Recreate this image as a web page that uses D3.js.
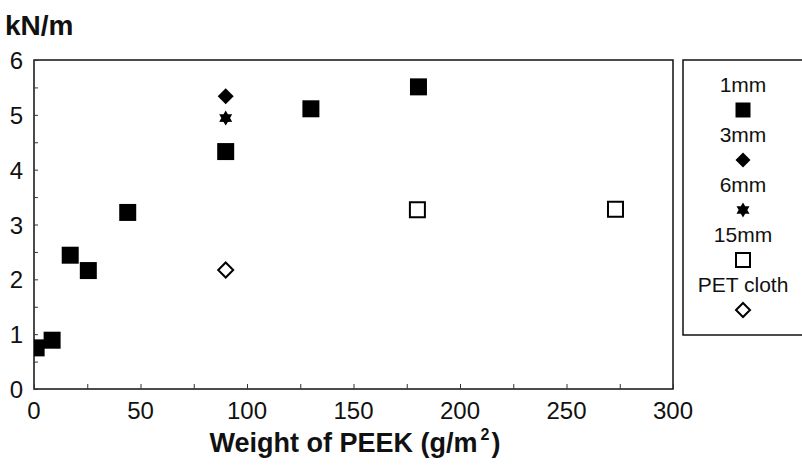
<!DOCTYPE html>
<html><head><meta charset="utf-8">
<script src="https://cdn.jsdelivr.net/npm/d3@7"></script>
<style>body{margin:0;background:#fff}svg{display:block;font-family:"Liberation Sans",Arial,sans-serif}</style>
</head><body><svg id="c" width="802" height="467"></svg>
<script>
const xTicks = [0, 50, 100, 150, 200, 250, 300];
const yTicks = [0, 1, 2, 3, 4, 5, 6];
const seriesNames = ["1mm", "3mm", "6mm", "15mm", "PET cloth"];
const s1mmX = [1, 8.5, 17, 25.5, 44, 90, 130, 180.5];
const s1mmY = [0.75, 0.89, 2.44, 2.16, 3.22, 4.33, 5.11, 5.51];
const s3mmX = [90];
const s3mmY = [5.34];
const s6mmX = [90];
const s6mmY = [4.94];
const s15mmX = [180, 273];
const s15mmY = [3.27, 3.28];
const petX = [90];
const petY = [2.17];

const svg = d3.select("#c");
const L = 34, R = 673, T = 60, B = 389;
const x = d3.scaleLinear().domain([0, 300]).range([L, R]);
const y = d3.scaleLinear().domain([0, 6]).range([B, T]);

svg.append("rect").attr("x", L).attr("y", T).attr("width", R - L).attr("height", B - T)
  .attr("fill", "none").attr("stroke", "#111").attr("stroke-width", 1.5);

const gx = svg.append("g").attr("transform", `translate(0,${B})`)
  .call(d3.axisTop(x).tickValues(d3.range(0, 301, 25)).tickSize(5).tickFormat(""));
const gy = svg.append("g").attr("transform", `translate(${L},0)`)
  .call(d3.axisRight(y).tickValues(d3.range(0, 6.01, 0.5)).tickSize(4).tickFormat(""));
[gx, gy].forEach(g => { g.select(".domain").remove(); g.selectAll("line").attr("stroke", "#333").attr("stroke-width", 1); });

svg.append("g").selectAll("text").data(xTicks).join("text")
  .attr("x", d => x(d)).attr("y", 419).attr("text-anchor", "middle")
  .attr("font-size", 24).attr("fill", "#111").text(d => d);
svg.append("g").selectAll("text").data(yTicks).join("text")
  .attr("x", 23).attr("y", d => y(d) + 9).attr("text-anchor", "end")
  .attr("font-size", 24).attr("fill", "#111").text(d => d);

svg.append("text").attr("x", 5).attr("y", 35).attr("font-size", 28).attr("font-weight", "bold")
  .attr("fill", "#111").text("kN/m");
const xt = svg.append("text").attr("x", 355).attr("y", 452).attr("text-anchor", "middle")
  .attr("font-size", 27).attr("font-weight", "bold").attr("fill", "#111");
xt.append("tspan").text("Weight of PEEK (g/m");
xt.append("tspan").attr("font-size", 16).attr("dy", -12).attr("dx", 3).text("2");
xt.append("tspan").attr("dy", 12).attr("dx", 2).text(")");

svg.append("clipPath").attr("id", "clip").append("rect")
  .attr("x", L).attr("y", T).attr("width", R - L).attr("height", B - T);
const plot = svg.append("g").attr("clip-path", "url(#clip)");

function star(size) {
  const pts = [];
  const ro = size / 2, ri = ro * 0.58;
  for (let i = 0; i < 12; i++) {
    const r = i % 2 === 0 ? ro : ri;
    const a = -Math.PI / 2 + i * Math.PI / 6;
    pts.push([r * Math.cos(a), r * Math.sin(a)]);
  }
  return "M" + pts.map(p => p.join(",")).join("L") + "Z";
}
function sq(s) { return `M${-s/2},${-s/2}h${s}v${s}h${-s}Z`; }
function dia(s) { return `M0,${-s/2}L${s/2},0L0,${s/2}L${-s/2},0Z`; }

const markers = [
  { xs: s1mmX, ys: s1mmY, path: sq(17), fill: "#000", sw: 0, lp: sq(15) },
  { xs: s3mmX, ys: s3mmY, path: dia(16), fill: "#000", sw: 0, lp: dia(15) },
  { xs: s6mmX, ys: s6mmY, path: star(15), fill: "#000", sw: 0, lp: star(15) },
  { xs: s15mmX, ys: s15mmY, path: sq(15), fill: "#fff", sw: 2, lp: sq(14) },
  { xs: petX, ys: petY, path: dia(15), fill: "#fff", sw: 2, lp: dia(14) }
];
markers.forEach(m => {
  plot.append("g").selectAll("path").data(m.xs.map((v, i) => [v, m.ys[i]])).join("path")
    .attr("transform", d => `translate(${x(d[0])},${y(d[1])})`)
    .attr("d", m.path).attr("fill", m.fill)
    .attr("stroke", "#000").attr("stroke-width", m.sw);
});

const lg = svg.append("g");
lg.append("rect").attr("x", 683).attr("y", 60).attr("width", 130).attr("height", 275)
  .attr("fill", "#fff").attr("stroke", "#111").attr("stroke-width", 1.5);
const lcx = 743;
seriesNames.forEach((n, i) => {
  const my = 110 + i * 50;
  lg.append("text").attr("x", lcx).attr("y", my - 18).attr("text-anchor", "middle")
    .attr("font-size", 21).attr("fill", "#111").text(n);
  lg.append("path").attr("transform", `translate(${lcx},${my})`).attr("d", markers[i].lp)
    .attr("fill", markers[i].fill).attr("stroke", "#000").attr("stroke-width", markers[i].sw ? 2 : 0);
});
</script></body></html>
